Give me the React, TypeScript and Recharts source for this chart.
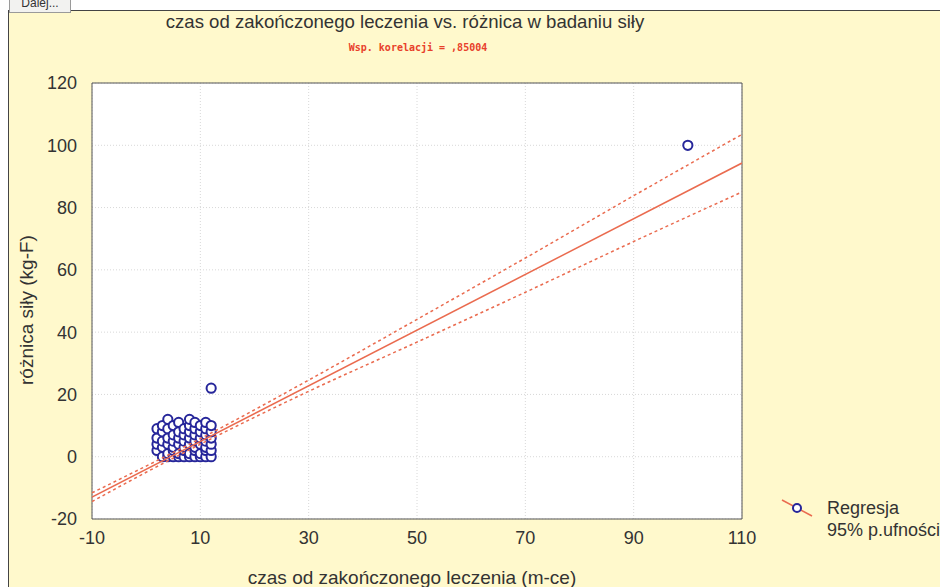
import React from 'react';
import { ComposedChart, Scatter, Line, XAxis, YAxis, CartesianGrid, Legend } from 'recharts';

// ---- data ----
const czas = [
  2, 2, 2, 2,
  3, 3, 3, 3, 3,
  4, 4, 4, 4, 4, 4,
  5, 5, 5, 5, 5, 5,
  6, 6, 6, 6, 6, 6,
  7, 7, 7, 7, 7, 7,
  8, 8, 8, 8, 8, 8, 8,
  9, 9, 9, 9, 9, 9, 9,
  10, 10, 10, 10, 10, 10,
  11, 11, 11, 11, 11, 11, 11,
  12, 12, 12, 12, 12, 12, 12,
  100,
];
const roznica = [
  2, 4, 6, 9,
  0, 3, 5, 8, 10,
  0, 1, 4, 6, 9, 12,
  0, 2, 3, 5, 7, 10,
  0, 1, 4, 6, 8, 11,
  0, 2, 3, 5, 7, 9,
  0, 1, 4, 6, 8, 10, 12,
  0, 2, 3, 5, 7, 9, 11,
  0, 1, 4, 6, 8, 10,
  0, 2, 3, 5, 7, 9, 11,
  0, 2, 4, 6, 8, 10, 22,
  100,
];

const regX = [-10, 110];
const regY = [-13.0, 94.3];

const bandX = [-10, 0, 10, 30, 50, 70, 90, 110];
const upperY = [-11.6, -3.0, 5.8, 24.6, 44.1, 63.8, 83.8, 103.5];
const lowerY = [-14.4, -5.0, 4.0, 21.0, 36.8, 52.8, 69.1, 85.0];

const xTicksMajor = [-10, 10, 30, 50, 70, 90, 110];
const yTicksMajor = [-20, 0, 20, 40, 60, 80, 100, 120];
const xTicksMinor = [-10, -6, -2, 2, 6, 10, 14, 18, 22, 26, 30, 34, 38, 42, 46, 50, 54, 58, 62, 66, 70, 74, 78, 82, 86, 90, 94, 98, 102, 106, 110];
const yTicksMinor = [-20, -16, -12, -8, -4, 0, 4, 8, 12, 16, 20, 24, 28, 32, 36, 40, 44, 48, 52, 56, 60, 64, 68, 72, 76, 80, 84, 88, 92, 96, 100, 104, 108, 112, 116, 120];

const title = 'czas od zakończonego leczenia vs. różnica w badaniu siły';
const subtitle = 'Wsp. korelacji = ,85004';
const xTitle = 'czas od zakończonego leczenia (m-ce)';
const yTitle = 'różnica siły (kg-F)';
const legendLabels = ['Regresja', '95% p.ufności'];

const points = czas.map((x, i) => ({ x, y: roznica[i] }));
const regData = regX.map((x, i) => ({ x, y: regY[i] }));
const upperData = bandX.map((x, i) => ({ x, y: upperY[i] }));
const lowerData = bandX.map((x, i) => ({ x, y: lowerY[i] }));

const FONT = '"Liberation Sans", Arial, sans-serif';
const RED = '#ea6b4f';
const NAVY = '#26269a';
const TEXT = '#333333';

const Marker = (p: any) => (
  <circle cx={p.cx} cy={p.cy} r={4.6} fill="#ffffff" stroke={NAVY} strokeWidth={2} />
);

const LegendBox = () => (
  <div style={{ position: 'relative', width: 170, height: 50, fontFamily: FONT, fontSize: 18, color: TEXT }}>
    <svg width={40} height={26} style={{ position: 'absolute', left: 0, top: 0 }}>
      <line x1={7} y1={6} x2={37} y2={22} stroke={RED} strokeWidth={1.5} />
      <circle cx={22} cy={14} r={4} fill="#fff" stroke={NAVY} strokeWidth={2} />
    </svg>
    <div style={{ position: 'absolute', left: 52, top: 3, lineHeight: '22px', whiteSpace: 'nowrap' }}>
      {legendLabels[0]}
      <br />
      {legendLabels[1]}
    </div>
  </div>
);

export default function App() {
  return (
    <div style={{ position: 'absolute', left: 0, top: 0, width: 940, height: 587, overflow: 'hidden', background: '#ffffff', fontFamily: FONT }}>
      <div style={{ position: 'absolute', left: 8, top: 10, width: 940, height: 590, background: '#fff9cc', borderTop: '1px solid #444', borderLeft: '1px solid #444' }} />
      <div style={{ position: 'absolute', left: 9, top: -6, width: 62, height: 19, background: '#f2f2f0', border: '1px solid #9a9a9a', fontSize: 12, textAlign: 'center', lineHeight: '16px', color: '#333', boxSizing: 'border-box' }}>Dalej...</div>

      <div style={{ position: 'absolute', left: 0, top: 0 }}>
        <ComposedChart width={940} height={587} margin={{ top: 83, right: 198, bottom: 38, left: 32 }}>
          <CartesianGrid xAxisId="b" yAxisId="l" stroke="#d8d8d8" strokeDasharray="1 2" fill="#ffffff" fillOpacity={1} />
          <XAxis xAxisId="b" type="number" dataKey="x" domain={[-10, 110]} allowDataOverflow ticks={xTicksMajor} interval={0}
            height={30} tickLine={false} tickSize={0} tickMargin={12} axisLine={{ stroke: '#555555' }}
            tick={{ fontSize: 18, fill: TEXT, fontFamily: FONT }} />
          <XAxis xAxisId="bm" type="number" orientation="bottom" mirror domain={[-10, 110]} allowDataOverflow ticks={xTicksMinor} interval={0}
            tick={false} tickSize={5} tickLine={{ stroke: '#666666' }} axisLine={false} />
          <XAxis xAxisId="tm" type="number" orientation="top" mirror domain={[-10, 110]} allowDataOverflow ticks={xTicksMinor} interval={0}
            tick={false} tickSize={5} tickLine={{ stroke: '#666666' }} axisLine={{ stroke: '#555555' }} />
          <YAxis yAxisId="l" type="number" domain={[-20, 120]} allowDataOverflow ticks={yTicksMajor} interval={0}
            width={60} tickLine={false} tickSize={0} tickMargin={15} axisLine={{ stroke: '#555555' }}
            tick={{ fontSize: 18, fill: TEXT, fontFamily: FONT }} />
          <YAxis yAxisId="lm" type="number" orientation="left" mirror domain={[-20, 120]} allowDataOverflow ticks={yTicksMinor} interval={0}
            tick={false} tickSize={5} tickLine={{ stroke: '#666666' }} axisLine={false} />
          <YAxis yAxisId="rm" type="number" orientation="right" mirror domain={[-20, 120]} allowDataOverflow ticks={yTicksMinor} interval={0}
            tick={false} tickSize={5} tickLine={{ stroke: '#666666' }} axisLine={{ stroke: '#555555' }} />

          <Scatter xAxisId="b" yAxisId="l" data={points} dataKey="y" shape={Marker} isAnimationActive={false} />
          <Line xAxisId="b" yAxisId="l" data={upperData} dataKey="y" type="monotone" stroke={RED} strokeWidth={1.5} strokeDasharray="3 3" dot={false} activeDot={false} isAnimationActive={false} zIndex={700} />
          <Line xAxisId="b" yAxisId="l" data={lowerData} dataKey="y" type="monotone" stroke={RED} strokeWidth={1.5} strokeDasharray="3 3" dot={false} activeDot={false} isAnimationActive={false} zIndex={700} />
          <Line xAxisId="b" yAxisId="l" data={regData} dataKey="y" type="linear" stroke={RED} strokeWidth={1.5} dot={false} activeDot={false} isAnimationActive={false} zIndex={700} />
          <Legend layout="horizontal" verticalAlign="middle" align="center" wrapperStyle={{ left: 775, top: 494, width: 170 }} content={() => <LegendBox />} />
        </ComposedChart>
      </div>

      <div style={{ position: 'absolute', left: 0, top: 12, width: 810, textAlign: 'center', fontSize: 18.6, lineHeight: '20px', color: TEXT, whiteSpace: 'nowrap' }}>{title}</div>
      <div style={{ position: 'absolute', left: 0, top: 42, width: 836, textAlign: 'center', fontSize: 10, lineHeight: '12px', color: '#e8402a', fontWeight: 'bold', fontFamily: '"DejaVu Sans Mono", monospace', whiteSpace: 'nowrap' }}>{subtitle}</div>
      <div style={{ position: 'absolute', left: 0, top: 568, width: 824, textAlign: 'center', fontSize: 19, lineHeight: '20px', color: TEXT, whiteSpace: 'nowrap' }}>{xTitle}</div>
      <div style={{ position: 'absolute', left: 27, top: 310, transform: 'translate(-50%, -50%) rotate(-90deg)', fontSize: 19, lineHeight: '20px', color: TEXT, whiteSpace: 'nowrap' }}>{yTitle}</div>
    </div>
  );
}
